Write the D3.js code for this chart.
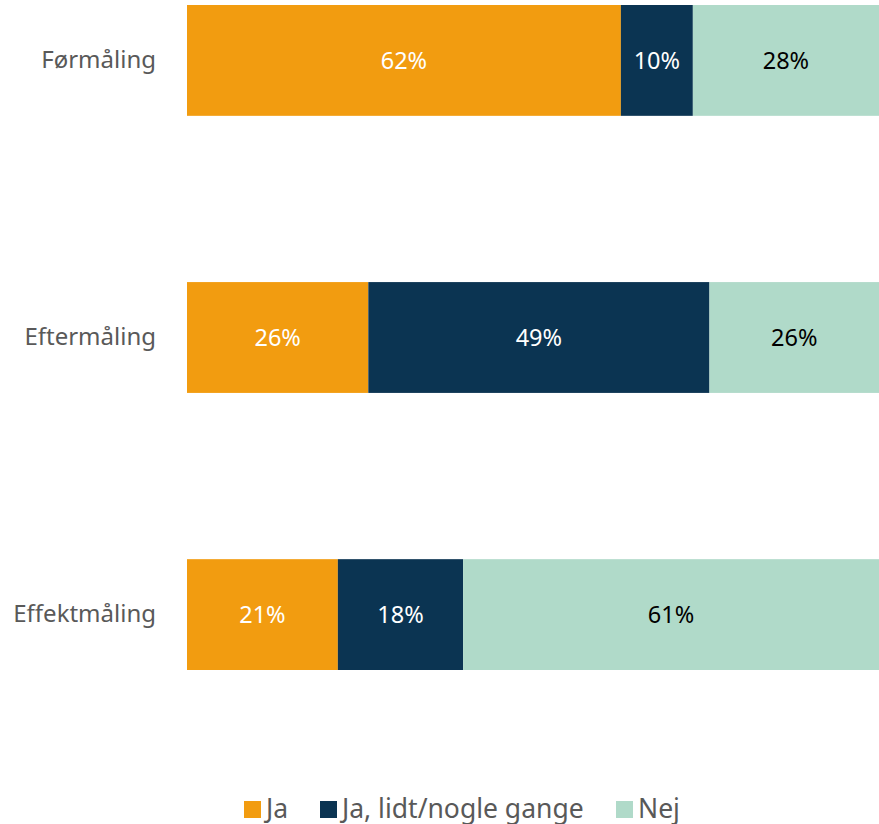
<!DOCTYPE html>
<html>
<head>
<meta charset="utf-8">
<script src="https://cdn.jsdelivr.net/npm/d3@7"></script>
<style>
    body { margin: 0; background: #fff; }
    text { font-family: "Noto Sans", sans-serif; }
</style>
</head>
<body>
<div id="chart"></div>
<script>
// data
var categories = ['Førmåling', 'Eftermåling', 'Effektmåling'];
var seriesNames = ['Ja', 'Ja, lidt/nogle gange', 'Nej'];
var seriesColors = ['#f29c10', '#0b3452', '#b0dac9'];
var labelColors = ['#ffffff', '#ffffff', '#000000'];
var ja = [62.7, 26.2, 21.8];
var jaLidt = [10.4, 49.3, 18.1];
var nej = [26.9, 24.5, 60.1];
var jaLabels = ['62%', '26%', '21%'];
var jaLidtLabels = ['10%', '49%', '18%'];
var nejLabels = ['28%', '26%', '61%'];

var width = 879, height = 824;
var margin = {left: 187, right: 0, top: 5, bottom: 154};

var rows = categories.map(function (c, i) {
    return {cat: c, Ja: ja[i], JaLidt: jaLidt[i], Nej: nej[i],
        labels: [jaLabels[i], jaLidtLabels[i], nejLabels[i]]};
});
var keys = ['Ja', 'JaLidt', 'Nej'];
var stacked = d3.stack().keys(keys)(rows);

var svg = d3.select('#chart').append('svg').attr('width', width).attr('height', height);

var x = d3.scaleLinear().domain([0, 100]).range([margin.left, width - margin.right]);
var y = d3.scaleBand().domain(categories)
    .range([margin.top, height - margin.bottom])
    .paddingInner(0.6).paddingOuter(0);

// bars
var groups = svg.selectAll('g.series')
    .data(stacked)
    .enter()
    .append('g')
    .attr('class', 'series')
    .attr('fill', function (d, i) { return seriesColors[i]; });

groups.selectAll('rect')
    .data(function (d) { return d; })
    .enter()
    .append('rect')
    .attr('x', function (d) { return x(d[0]); })
    .attr('width', function (d) { return x(d[1]) - x(d[0]); })
    .attr('y', function (d) { return y(d.data.cat); })
    .attr('height', y.bandwidth());

// value labels
groups.each(function (s, si) {
    d3.select(this).selectAll('text')
        .data(s)
        .enter()
        .append('text')
        .attr('x', function (d) { return (x(d[0]) + x(d[1])) / 2; })
        .attr('y', function (d) { return y(d.data.cat) + y.bandwidth() / 2; })
        .attr('dy', '0.36em')
        .attr('text-anchor', 'middle')
        .attr('fill', labelColors[si])
        .style('font-size', '23.5px')
        .text(function (d) { return d.data.labels[si]; });
});

// category axis
var axis = svg.append('g')
    .attr('transform', 'translate(' + (margin.left - 31) + ',0)')
    .call(d3.axisLeft(y).tickSize(0).tickPadding(0));
axis.select('.domain').remove();
axis.selectAll('text')
    .attr('fill', '#595959')
    .style('font-size', '24px')
    .style('font-family', '"Noto Sans", sans-serif');

// legend
var legendX = [244, 320, 616];
var legend = svg.append('g').attr('transform', 'translate(0,801)');
var item = legend.selectAll('g')
    .data(seriesNames)
    .enter()
    .append('g')
    .attr('transform', function (d, i) { return 'translate(' + legendX[i] + ',0)'; });
item.append('rect')
    .attr('width', 17)
    .attr('height', 17)
    .attr('fill', function (d, i) { return seriesColors[i]; });
item.append('text')
    .attr('x', 22)
    .attr('y', 17)
    .attr('fill', '#595959')
    .style('font-size', '26.5px')
    .text(function (d) { return d; });
</script>
</body>
</html>
